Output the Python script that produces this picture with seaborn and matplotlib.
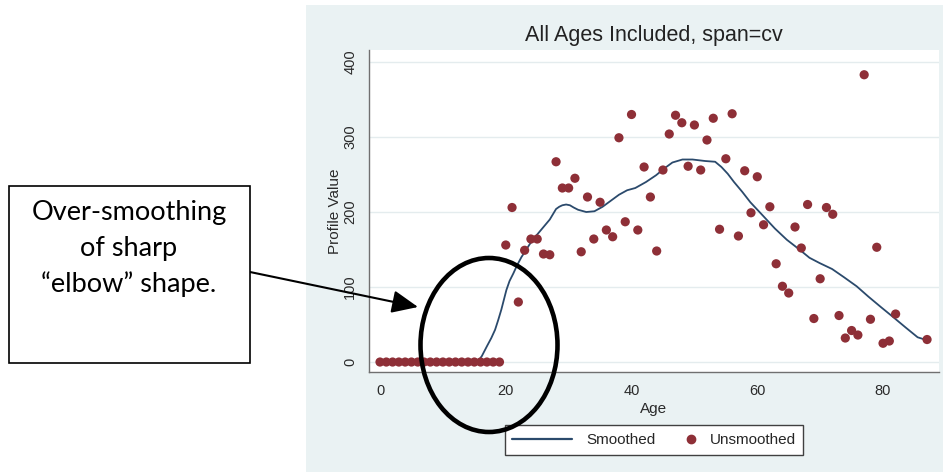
import matplotlib
matplotlib.use("Agg")
import matplotlib.pyplot as plt
from matplotlib.patches import Rectangle, Ellipse
from matplotlib.lines import Line2D
from matplotlib.legend_handler import HandlerLine2D
import seaborn as sns

# raw profile values (one per age)
ages = [0, 1, 2, 3, 4, 5, 6, 7, 8, 9, 10, 11, 12, 13, 14, 15, 16, 17, 18, 19,
        20, 21, 22, 23, 24, 25, 26, 27, 28, 29, 30, 31, 32, 33, 34, 35, 36, 37,
        38, 39, 40, 41, 42, 43, 44, 45, 46, 47, 48, 49, 50, 51, 52, 53, 54, 55,
        56, 57, 58, 59, 60, 61, 62, 63, 64, 65, 66, 67, 68, 69, 70, 71, 72, 73,
        74, 75, 76, 77, 78, 79, 80, 81, 82, 87]
profile = [0, 0, 0, 0, 0, 0, 0, 0, 0, 0, 0, 0, 0, 0, 0, 0, 0, 0, 0, 0,
           156, 206, 80, 149, 164, 164, 144, 143, 267, 232, 232, 245, 147, 220,
           164, 213, 176, 167, 299, 187, 330, 176, 260, 220, 148, 256, 304, 329,
           319, 261, 316, 256, 296, 325, 177, 271, 331, 168, 255, 199, 247, 183,
           207, 131, 101, 92, 180, 152, 210, 58, 111, 206, 197, 62, 32, 42, 36,
           383, 57, 153, 25, 28, 64, 30]

# smoothed curve (span=cv)
smooth_age = [0, 15.5, 16.2, 17.0, 17.7, 18.3, 18.8, 19.3, 19.7, 20.1, 20.6,
              21.2, 21.8, 22.5, 23.2, 23.8, 24.7, 25.6, 26.3, 27.0, 27.5, 28.0,
              28.5, 29.0, 29.6, 30.2, 30.8, 31.5, 32.8, 34.1, 35.4, 36.7, 38.0,
              39.3, 40.6, 42.3, 43.9, 45.2, 46.5, 48.1, 49.7, 51.7, 53.3, 54.3,
              55.3, 56.3, 57.6, 58.9, 60.8, 62.8, 64.7, 66.7, 68.3, 69.9, 71.9,
              73.8, 75.8, 77.7, 79.7, 81.6, 83.6, 85.5, 87.0]
smooth_val = [0, 0, 8, 21, 32, 43, 56, 70, 83, 96, 108, 118, 129, 140, 149,
              157, 167, 176, 183, 190, 197, 204, 207, 209, 210, 209, 206, 203,
              200, 201, 207, 215, 223, 229, 232, 240, 249, 258, 266, 270, 270,
              268, 267, 260, 251, 240, 227, 213, 196, 178, 163, 150, 139, 132,
              124, 113, 101, 87, 73, 60, 46, 33, 29]

x_ticks = [0, 20, 40, 60, 80]
y_ticks = [0, 100, 200, 300, 400]
title = "All Ages Included, span=cv"
note_lines = ["Over-smoothing", "of sharp", "\u201celbow\u201d shape."]

W, H = 943, 473
NAVY = "#2b4a6c"
MAROON = "#8e2f37"
BG = "#eaf2f3"


def fx(px):
    return px / W


def fy(py):
    return 1 - py / H


class RightMarker(HandlerLine2D):
    # legend key with the dot sitting close to its label
    def get_xdata(self, legend, xdescent, ydescent, width, height, fontsize):
        x = -xdescent + width - 0.3 * fontsize
        return [x, x], [x]


sns.set_style("white")
plt.rcParams["font.family"] = ["Liberation Sans", "DejaVu Sans"]

fig = plt.figure(figsize=(W / 100, H / 100), dpi=100)
fig.patch.set_facecolor("white")

# stata-like graph region
fig.add_artist(Rectangle((fx(306), fy(472)), fx(943) - fx(306), fy(5) - fy(472),
                         transform=fig.transFigure, facecolor=BG,
                         edgecolor="none", zorder=-5))

ax = fig.add_axes([fx(369), fy(372), fx(939) - fx(369), fy(50) - fy(372)])
ax.set_facecolor("white")

sns.lineplot(x=smooth_age, y=smooth_val, ax=ax, color=NAVY, lw=1.3,
             sort=False, estimator=None, zorder=2, legend=False)
sns.scatterplot(x=ages, y=profile, ax=ax, color=MAROON, s=44,
                edgecolor="none", zorder=3, legend=False)

ax.set_xlim(-1.75, 88.9)
ax.set_ylim(-13.3, 416)
ax.set_xticks(x_ticks)
ax.set_yticks(y_ticks)
ax.tick_params(axis="both", length=4, width=0.8, color="#6a6a6a",
               labelsize=10.5, labelcolor="#2a2a2a")
ax.tick_params(axis="y", pad=4.5)
ax.tick_params(axis="x", pad=4.5)
for lab in ax.get_yticklabels():
    lab.set_rotation(90)
    lab.set_va("center")

ax.yaxis.grid(True, color="#e4ecee", lw=1)
ax.set_axisbelow(True)
for side in ["top", "right"]:
    ax.spines[side].set_visible(False)
for side in ["left", "bottom"]:
    ax.spines[side].set_color("#707070")
    ax.spines[side].set_linewidth(1)

ax.set_xlabel("Age", fontsize=11, color="#2a2a2a")
ax.set_ylabel("Profile Value", fontsize=11, color="#2a2a2a")
ax.xaxis.set_label_coords(0.5, -0.093)
ax.yaxis.set_label_coords(-0.048, 0.5)

fig.text(fx(654), fy(36), title, ha="center", va="center", fontsize=15.5,
         color="#222222")

# legend below the plot
line_h = Line2D([], [], color=NAVY, lw=1.6)
dot_h = Line2D([], [], ls="none", marker="o", color=MAROON, markersize=6)
leg = fig.legend([line_h, dot_h], ["Smoothed", "Unsmoothed"], ncol=2,
                 loc="center", bbox_to_anchor=(fx(654), fy(440)),
                 fontsize=11, frameon=True, fancybox=False, framealpha=1,
                 edgecolor="#404040", handlelength=3.9, handletextpad=0.95,
                 columnspacing=-1.3, borderpad=0.5,
                 handler_map={dot_h: RightMarker()})
leg.get_frame().set_linewidth(1)

# annotation box on the left
fig.add_artist(Rectangle((fx(9), fy(363)), fx(250) - fx(9), fy(186) - fy(363),
                         transform=fig.transFigure, facecolor="white",
                         edgecolor="black", lw=1.2, zorder=5))
for txt, base in zip(note_lines, [220, 256, 292]):
    fig.text(fx(129), fy(base), txt, ha="center", va="baseline",
             fontsize=19.5, family=["Lato", "DejaVu Sans"], color="black",
             zorder=6)

ax.annotate("", xy=(fx(418), fy(307)), xytext=(fx(250), fy(272)),
            xycoords="figure fraction", textcoords="figure fraction",
            annotation_clip=False,
            arrowprops=dict(arrowstyle="-|>,head_length=0.8,head_width=0.35",
                            color="black", lw=1.5, mutation_scale=20,
                            shrinkA=0, shrinkB=0))

fig.add_artist(Ellipse((fx(489), fy(345)), 137 / W, 174 / H,
                       transform=fig.transFigure, fill=False,
                       edgecolor="black", lw=3.3, zorder=10))

fig.savefig("out.png", dpi=100)
